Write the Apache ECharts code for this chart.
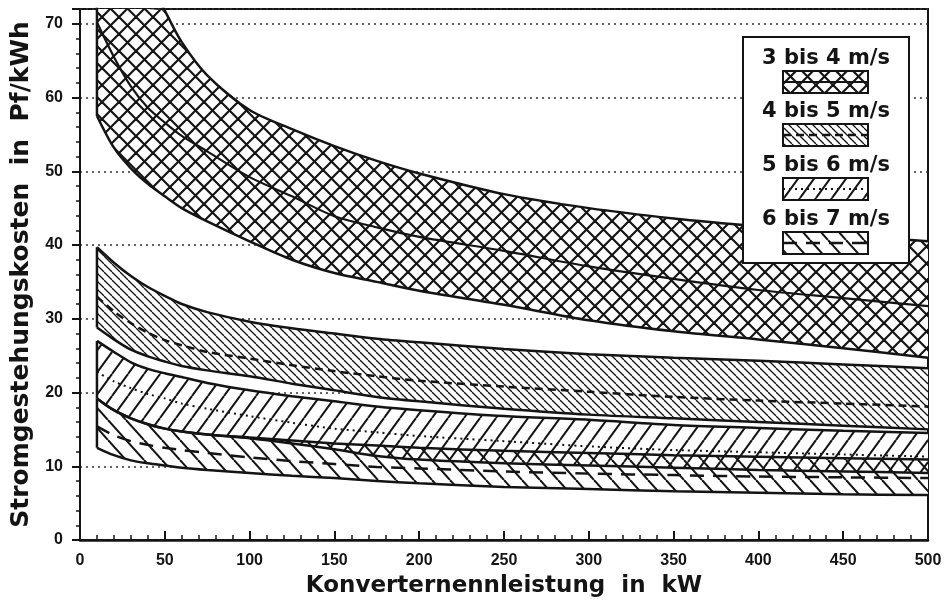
<!DOCTYPE html>
<html>
<head>
<meta charset="utf-8">
<script src="https://cdn.jsdelivr.net/npm/echarts@6/dist/echarts.min.js"></script>
<style>
html, body { margin: 0; padding: 0; background: #fff; }
#main { width: 945px; height: 603px; }
</style>
</head>
<body>
<div id="main"></div>
<script>
// Stützstellen der Konverternennleistung (kW)
var xs = [10, 20, 30, 40, 50, 60, 75, 100, 125, 150, 175, 200, 250, 300, 350, 400, 450, 500];

// 3 bis 4 m/s
var b1Upper = [98, 89, 82, 76.5, 71.8, 67.5, 63, 58.3, 55.7, 53.4, 51.4, 49.7, 46.9, 45, 43.6, 42.5, 41.4, 40.5];
var b1Mid   = [70.2, 65.5, 61.5, 58.6, 56.6, 54.8, 52.7, 49.2, 46.6, 43.9, 42.4, 41.1, 39.2, 37.1, 35.4, 33.9, 32.8, 31.7];
var b1Lower = [57.5, 53.2, 50.4, 48.3, 46.6, 45, 43.2, 40.5, 38, 36.2, 35, 33.8, 31.9, 29.8, 28.3, 27.2, 26, 24.7];

// 4 bis 5 m/s
var b2Upper = [39.7, 37.6, 35.8, 34.3, 33.1, 32, 30.9, 29.6, 28.7, 28, 27.3, 26.8, 25.9, 25.2, 24.7, 24.3, 23.8, 23.3];
var b2Mid   = [33, 31, 29.4, 28.1, 27.1, 26.4, 25.5, 24.6, 23.7, 22.9, 22.2, 21.6, 20.8, 20.1, 19.4, 18.9, 18.5, 18.1];
var b2Lower = [28.8, 27.2, 25.8, 24.9, 24.2, 23.6, 23, 22.2, 21.2, 20.3, 19.4, 18.8, 17.8, 17, 16.5, 16, 15.5, 15];

// 5 bis 6 m/s
var b3Upper = [27, 25.5, 24.1, 23.2, 22.6, 22.1, 21.3, 20.3, 19.5, 18.8, 18.1, 17.6, 16.8, 16.3, 15.6, 15.2, 14.8, 14.5];
var b3Mid   = [22.8, 21.5, 20.6, 19.8, 19.2, 18.5, 17.8, 16.8, 15.9, 15.1, 14.6, 14.1, 13.4, 12.7, 12.2, 11.9, 11.6, 11.3];
var b3Lower = [19.2, 17.6, 16.5, 15.7, 15.1, 14.7, 14.3, 13.8, 13.1, 12.3, 11.4, 10.9, 10.4, 10.1, 9.8, 9.5, 9.3, 9.1];

// 6 bis 7 m/s
var b4Upper = [19.2, 17.6, 16.5, 15.7, 15.1, 14.7, 14.3, 13.9, 13.5, 13.1, 12.8, 12.5, 12.1, 11.8, 11.5, 11.3, 11.1, 10.9];
var b4Mid   = [15.4, 14.2, 13.4, 12.9, 12.5, 12.2, 11.8, 11.2, 10.7, 10.3, 9.9, 9.7, 9.3, 9, 8.8, 8.6, 8.5, 8.4];
var b4Lower = [12.5, 11.5, 10.8, 10.4, 10.1, 9.8, 9.5, 9.1, 8.7, 8.4, 8, 7.7, 7.2, 6.9, 6.6, 6.4, 6.2, 6.1];

var bandNames = ['3 bis 4 m/s', '4 bis 5 m/s', '5 bis 6 m/s', '6 bis 7 m/s'];
var yTicks = [0, 10, 20, 30, 40, 50, 60, 70];

var INK = '#141414';

// Schraffur als Kachel zeichnen
function hatch(w, h, dirs, lw) {
	var c = document.createElement('canvas');
	c.width = w;
	c.height = h;
	var g = c.getContext('2d');
	g.strokeStyle = INK;
	g.lineWidth = lw;
	dirs.forEach(function (d) {
		for (var k = -1; k <= 1; k++) {
			g.beginPath();
			if (d === '\\') {
				g.moveTo(k * w, 0);
				g.lineTo(k * w + w, h);
			} else {
				g.moveTo(k * w, h);
				g.lineTo(k * w + w, 0);
			}
			g.stroke();
		}
	});
	return { image: c, repeat: 'repeat' };
}

var patterns = [
	hatch(17, 17, ['\\', '/'], 2.2),
	hatch(8, 8, ['\\'], 1.3),
	hatch(16, 22, ['/'], 2),
	hatch(18, 20, ['\\'], 2)
];

var bands = [
	{ upper: b1Upper, mid: b1Mid, lower: b1Lower, dash: 'solid', width: 2.2 },
	{ upper: b2Upper, mid: b2Mid, lower: b2Lower, dash: [8, 5], width: 2.5 },
	{ upper: b3Upper, mid: b3Mid, lower: b3Lower, dash: [2, 4], width: 2 },
	{ upper: b4Upper, mid: b4Mid, lower: b4Lower, dash: [14, 9], width: 2.5 }
];

function pairs(ys) {
	return xs.map(function (x, i) { return [x, ys[i]]; });
}

// Fläche zwischen unterer und oberer Kurve
function bandPoints(params, api, b) {
	var pts = [];
	var i;
	for (i = 0; i < xs.length; i++) pts.push(api.coord([xs[i], b.upper[i]]));
	for (i = xs.length - 1; i >= 0; i--) pts.push(api.coord([xs[i], b.lower[i]]));
	var cs = params.coordSys;
	return echarts.graphic.clipPointsByRect(pts, { x: cs.x, y: cs.y, width: cs.width, height: cs.height });
}

var myChart = echarts.init(document.getElementById('main'));

var series = [
	{
		type: 'custom',
		name: 'underlay',
		silent: true,
		z: 1,
		data: [[0, 0], [1, 0], [2, 0], [3, 0]],
		renderItem: function (params, api) {
			return {
				type: 'polygon',
				shape: { points: bandPoints(params, api, bands[params.dataIndex]) },
				style: { fill: '#fff' }
			};
		}
	},
	{
		type: 'custom',
		name: 'bands',
		silent: true,
		z: 2,
		data: [[0, 0], [1, 0], [2, 0], [3, 0]],
		renderItem: function (params, api) {
			return {
				type: 'polygon',
				shape: { points: bandPoints(params, api, bands[params.dataIndex]) },
				style: { fill: patterns[params.dataIndex] }
			};
		}
	}
];

function edgeLine(data, style) {
	return {
		type: 'line',
		data: data,
		symbol: 'none',
		smooth: 0.3,
		z: 3,
		silent: true,
		lineStyle: style
	};
}

bands.forEach(function (b, i) {
	var outline = { color: INK, width: 2.5, type: 'solid' };
	series.push(edgeLine(pairs(b.upper), outline));
	series.push(edgeLine(pairs(b.lower), outline));
	// linke Begrenzung bei 10 kW
	series.push(edgeLine([[xs[0], b.lower[0]], [xs[0], b.upper[0]]], outline));
	var m = edgeLine(pairs(b.mid), { color: INK, width: b.width, type: b.dash });
	m.name = bandNames[i];
	m.z = 4;
	series.push(m);
});

// Legende: Text über dem Muster
var legendEls = [{
	type: 'rect',
	shape: { x: 743, y: 37, width: 166, height: 226 },
	style: { fill: '#fff', stroke: INK, lineWidth: 2 },
	z: 10
}];
var legendTop = [59, 112, 166, 220];
bandNames.forEach(function (n, i) {
	var ty = legendTop[i];
	legendEls.push({
		type: 'text',
		x: 826, y: ty,
		style: {
			text: n, fill: INK, align: 'center', verticalAlign: 'middle',
			font: 'bold 21px "DejaVu Sans"'
		},
		z: 11
	});
	legendEls.push({
		type: 'rect',
		shape: { x: 783, y: ty + 12, width: 85, height: 22 },
		style: { fill: patterns[i] },
		z: 11
	});
	legendEls.push({
		type: 'line',
		shape: { x1: 783, y1: ty + 23, x2: 868, y2: ty + 23 },
		style: { stroke: INK, lineWidth: bands[i].width, lineDash: bands[i].dash === 'solid' ? null : bands[i].dash },
		z: 12
	});
	legendEls.push({
		type: 'rect',
		shape: { x: 783, y: ty + 12, width: 85, height: 22 },
		style: { fill: null, stroke: INK, lineWidth: 2 },
		z: 13
	});
});

var option = {
	backgroundColor: '#fff',
	animation: false,
	grid: {
		left: 80, right: 17, top: 9, bottom: 63,
		show: true, borderColor: INK, borderWidth: 2, backgroundColor: 'transparent'
	},
	xAxis: {
		type: 'value',
		min: 0, max: 500, interval: 50,
		name: 'Konverternennleistung  in  kW',
		nameLocation: 'middle',
		nameGap: 35,
		nameTextStyle: { fontFamily: 'DejaVu Sans', fontWeight: 'bold', fontSize: 23, color: INK },
		axisLine: { lineStyle: { color: INK, width: 2.5 } },
		axisTick: { inside: true, length: 9, lineStyle: { color: INK, width: 2 } },
		minorTick: { show: true, splitNumber: 5, length: 5, lineStyle: { color: INK, width: 1.5 } },
		axisLabel: { fontFamily: 'Liberation Sans', fontWeight: 'bold', fontSize: 16, color: INK, margin: 13 },
		splitLine: { show: false }
	},
	yAxis: {
		type: 'value',
		min: 0, max: 72, interval: 10,
		name: 'Stromgestehungskosten  in  Pf/kWh',
		nameLocation: 'middle',
		nameGap: 42,
		nameTextStyle: { fontFamily: 'DejaVu Sans', fontWeight: 'bold', fontSize: 25, color: INK },
		axisLine: { show: true, lineStyle: { color: INK, width: 2 } },
		axisTick: { inside: false, length: 8, lineStyle: { color: INK, width: 2 } },
		minorTick: { show: true, splitNumber: 5, length: 4, lineStyle: { color: INK, width: 1.5 } },
		axisLabel: {
			fontFamily: 'Liberation Sans', fontWeight: 'bold', fontSize: 16, color: INK, margin: 17,
			showMaxLabel: false,
			formatter: function (v) { return yTicks.indexOf(v) >= 0 ? String(v) : ''; }
		},
		splitLine: { show: true, lineStyle: { color: '#333', width: 1.5, type: [2, 4] } }
	},
	graphic: legendEls,
	series: series
};

myChart.setOption(option);
</script>
</body>
</html>
